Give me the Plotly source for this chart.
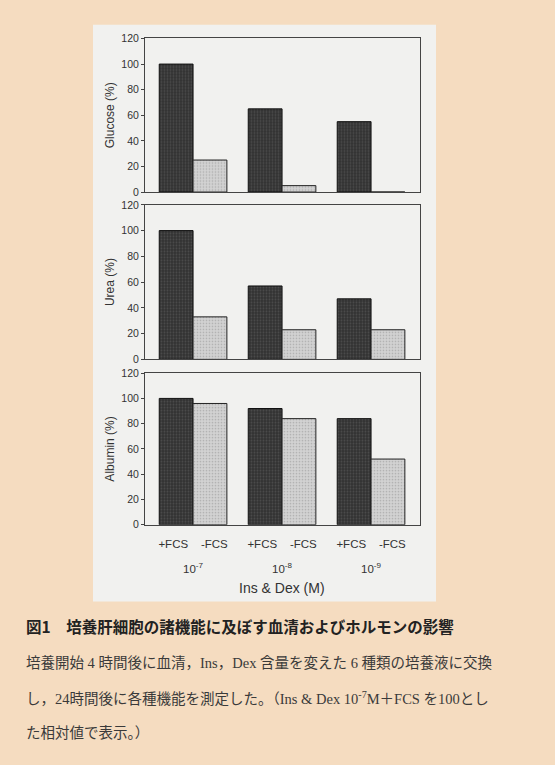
import plotly.graph_objects as go
from plotly.subplots import make_subplots

# データ (Ins & Dex 10^-7 M + FCS = 100 の相対値)
conc = ["10<sup>-7</sup>", "10<sup>-8</sup>", "10<sup>-9</sup>"]
serum = ["+FCS", "-FCS"]

glucose_plus = [100, 65, 55]
glucose_minus = [25, 5, 0]
urea_plus = [100, 57, 47]
urea_minus = [33, 23, 23]
albumin_plus = [100, 92, 84]
albumin_minus = [96, 84, 52]

panels = [
    ("Glucose (%)", glucose_plus, glucose_minus),
    ("Urea (%)", urea_plus, urea_minus),
    ("Albumin (%)", albumin_plus, albumin_minus),
]

W, H = 555, 765
BG = "#f5dcc0"
PANEL = "#f1f1ef"
SANS = "Liberation Sans, Arial, sans-serif"

fig = make_subplots(rows=3, cols=1, shared_xaxes=True)

for i, (name, plus, minus) in enumerate(panels, start=1):
    fig.add_trace(go.Bar(
        x=conc, y=plus, name=serum[0], showlegend=False,
        marker=dict(color="#3a3a3a", line=dict(color="#111", width=1),
                    pattern=dict(shape=".", bgcolor="#333333", fgcolor="#666666",
                                 size=3, solidity=0.3)),
    ), row=i, col=1)
    fig.add_trace(go.Bar(
        x=conc, y=minus, name=serum[1], showlegend=False,
        marker=dict(color="#bdbdbd", line=dict(color="#222", width=1),
                    pattern=dict(shape=".", bgcolor="#d2d2d2", fgcolor="#8a8a8a",
                                 size=3, solidity=0.25)),
    ), row=i, col=1)

# 各パネルの位置 (ピクセル → paper 座標)
px_top = [33, 202, 373]
px_bot = [189, 359, 527]
x0, x1 = 145 / W, 420 / W

for i in range(3):
    ax = "" if i == 0 else str(i + 1)
    fig.layout["yaxis" + ax].update(
        domain=[1 - px_bot[i] / H, 1 - px_top[i] / H],
        range=[0, 120], dtick=20, tick0=0,
        ticks="outside", ticklen=3, tickcolor="#444",
        showline=True, mirror=True, linecolor="#444", linewidth=1,
        showgrid=False, zeroline=False,
        tickfont=dict(family=SANS, size=10.5, color="#333"),
        title=dict(text=panels[i][0], standoff=4,
                   font=dict(family=SANS, size=12, color="#333")),
    )
    fig.layout["xaxis" + ax].update(
        domain=[x0, x1], type="category", range=[-0.54, 2.55],
        showline=True, mirror=True, linecolor="#444", linewidth=1,
        showgrid=False, ticks="", showticklabels=(i == 2),
    )

fig.update_xaxes(
    tickvals=conc, ticktext=["+FCS\u00a0\u00a0\u00a0\u00a0-FCS"] * 3,
    tickfont=dict(family=SANS, size=11.5, color="#333"),
    ticklabelstandoff=8, row=3, col=1,
)

annotations = []
for c in conc:
    annotations.append(dict(
        x=c, xref="x3", y=1 - 571 / H, yref="paper", text=c, showarrow=False,
        font=dict(family=SANS, size=11.5, color="#333"), yanchor="middle",
    ))
annotations.append(dict(
    x=282 / W, xref="paper", y=1 - 591 / H, yref="paper", text="Ins & Dex (M)",
    showarrow=False, font=dict(family=SANS, size=14, color="#333"), yanchor="middle",
))

# 図のキャプション
annotations.append(dict(
    x=24 / W, y=1 - 630 / H, xref="paper", yref="paper", xanchor="left", yanchor="middle",
    text="<b>図1　培養肝細胞の諸機能に及ぼす血清およびホルモンの影響</b>",
    showarrow=False, font=dict(family="Noto Sans CJK JP", size=15.5, color="#222"),
))
body = [
    "培養開始 4 時間後に血清，Ins，Dex 含量を変えた 6 種類の培養液に交換",
    "し，24時間後に各種機能を測定した。（Ins & Dex 10<sup>-7</sup>M＋FCS を100とし",
    "た相対値で表示。）",
]
for k, line in enumerate(body):
    annotations.append(dict(
        x=24 / W, y=1 - (667 + 36 * k) / H, xref="paper", yref="paper",
        xanchor="left", yanchor="middle", text=line, showarrow=False,
        font=dict(family="Liberation Serif, Noto Sans CJK JP", size=14.5, color="#3a3a3a"),
    ))

fig.update_layout(
    width=W, height=H,
    margin=dict(l=0, r=0, t=0, b=0),
    paper_bgcolor=BG, plot_bgcolor=PANEL,
    barmode="group", bargap=0.24, bargroupgap=0,
    annotations=annotations,
    shapes=[dict(type="rect", xref="paper", yref="paper", layer="below",
                 x0=93 / W, x1=436 / W, y0=1 - 605 / H, y1=1 - 19 / H,
                 fillcolor=PANEL, line=dict(width=0))],
)

# ページの余白を消して図を左上に合わせる
fig.write_html("out.html", config={"displayModeBar": False},
               post_script="document.body.style.margin='0';"
               "document.body.style.background='%s';" % BG)
